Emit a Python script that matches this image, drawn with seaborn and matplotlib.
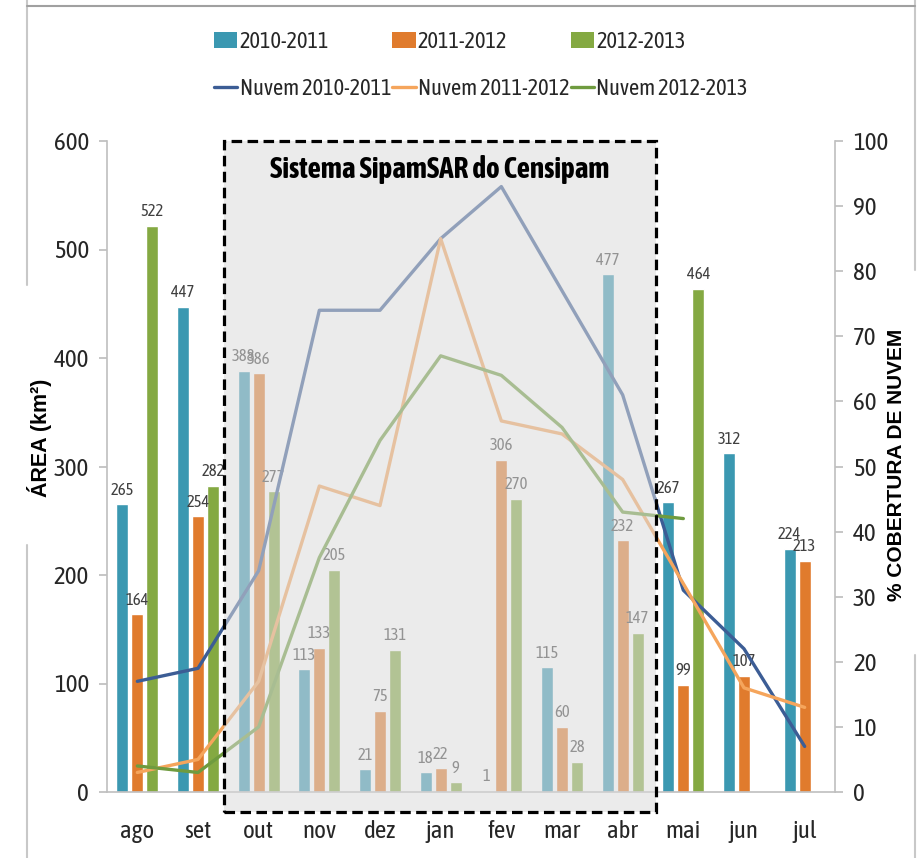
import matplotlib
matplotlib.use('Agg')
import matplotlib.pyplot as plt
import seaborn as sns
import pandas as pd
import numpy as np
from matplotlib.patches import Rectangle, Patch
from matplotlib.lines import Line2D

months = ['ago', 'set', 'out', 'nov', 'dez', 'jan', 'fev', 'mar', 'abr', 'mai', 'jun', 'jul']
seasons = ['2010-2011', '2011-2012', '2012-2013']
area_2010_2011 = [265, 447, 388, 113, 21, 18, 1, 115, 477, 267, 312, 224]
area_2011_2012 = [164, 254, 386, 133, 75, 22, 306, 60, 232, 99, 107, 213]
area_2012_2013 = [522, 282, 277, 205, 131, 9, 270, 28, 147, 464, None, None]
cloud_2010_2011 = [17, 19, 34, 74, 74, 85, 93, 77, 61, 31, 22, 7]
cloud_2011_2012 = [3, 5, 17, 47, 44, 85, 57, 55, 48, 32, 16, 13]
cloud_2012_2013 = [4, 3, 10, 36, 54, 67, 64, 56, 43, 42, None, None]
line_labels = ['Nuvem 2010-2011', 'Nuvem 2011-2012', 'Nuvem 2012-2013']

bar_colors = ['#3b98b1', '#e07b2d', '#84a942']
line_colors = ['#3c5d95', '#f5a55c', '#6f9b3f']

sns.set_theme(style='white')
COND = ['Asap Condensed', 'DejaVu Sans']
plt.rcParams['font.family'] = COND

rows = []
for s, vals in zip(seasons, [area_2010_2011, area_2011_2012, area_2012_2013]):
    for m, v in zip(months, vals):
        if v is not None:
            rows.append({'month': m, 'season': s, 'area': v})
df = pd.DataFrame(rows)

fig = plt.figure(figsize=(9.23, 8.58), dpi=100)
ax = fig.add_axes([107 / 923, 66 / 858, 728 / 923, 651 / 858])

sns.barplot(data=df, x='month', y='area', hue='season', order=months, hue_order=seasons,
            palette=bar_colors, saturation=1, width=0.74, gap=0.19, ax=ax, legend=False)
for cont in ax.containers:
    ax.bar_label(cont, fmt='%d', padding=4, fontsize=12, color='#404040')

ax.set_xlim(-0.5, len(months) - 0.5)
ax.set_ylim(0, 600)
ax.set_yticks(np.arange(0, 601, 100))
ax.set_xlabel('')
ax.set_ylabel('')
for sp in ['top', 'right']:
    ax.spines[sp].set_visible(False)
for sp in ['left', 'bottom']:
    ax.spines[sp].set_color('#bfbfbf')
    ax.spines[sp].set_linewidth(1.2)
ax.tick_params(axis='y', left=True, length=6, color='#bfbfbf', labelsize=18, labelcolor='#262626', pad=7)
ax.tick_params(axis='x', bottom=False, labelsize=18, labelcolor='#262626', pad=14)

ax2 = ax.twinx()
xpos = np.arange(len(months))
for vals, c in zip([cloud_2010_2011, cloud_2011_2012, cloud_2012_2013], line_colors):
    y = np.array([np.nan if v is None else v for v in vals], dtype=float)
    sns.lineplot(x=xpos, y=y, ax=ax2, color=c, linewidth=2.4, legend=False, zorder=3)
ax2.set_ylim(0, 100)
ax2.set_yticks(np.arange(0, 101, 10))
ax2.set_ylabel('')
ax2.set_xlim(-0.5, len(months) - 0.5)
for sp in ['top', 'left', 'bottom']:
    ax2.spines[sp].set_visible(False)
ax2.spines['right'].set_color('#bfbfbf')
ax2.spines['right'].set_linewidth(1.2)
ax2.tick_params(axis='y', right=True, length=6, color='#bfbfbf', labelsize=18, labelcolor='#262626', pad=7)

# shaded box (SipamSAR period)
x0, x1 = 1.43, 8.55
y0, y1 = -18.4, 600
overlay = Rectangle((x0, y0), x1 - x0, y1 - y0, transform=ax.transData, facecolor='#dadada',
                    alpha=0.54, edgecolor='none', zorder=10, clip_on=False)
ax2.add_patch(overlay)
border = Rectangle((x0, y0), x1 - x0, y1 - y0, transform=ax.transData, fill=False,
                   edgecolor='black', linewidth=2.3, linestyle=(0, (3.3, 1.7)), zorder=11, clip_on=False)
ax2.add_patch(border)
ax2.text(4.99, 574, 'Sistema SipamSAR do Censipam', transform=ax.transData, ha='center', va='center',
         fontsize=21, fontweight='bold', color='black', zorder=12)

# axis titles
fig.text(40 / 923, 1 - 438 / 858, 'ÁREA (km²)', rotation=90, ha='center', va='center',
         fontsize=15.5, fontweight='bold', family=['Liberation Sans', 'DejaVu Sans'], color='black')
fig.text(897 / 923, 1 - 465 / 858, '% COBERTURA DE NUVEM', rotation=90, ha='center', va='center',
         fontsize=15, fontweight='bold', family=['Liberation Sans', 'DejaVu Sans'], color='black')

# legend
handles, labels = [], []
for s, bc, ll, lc in zip(seasons, bar_colors, line_labels, line_colors):
    handles.append(Patch(facecolor=bc, edgecolor='none'))
    labels.append(s)
    handles.append(Line2D([0], [0], color=lc, linewidth=2.4))
    labels.append(ll)
fig.legend(handles, labels, ncol=3, loc='upper left', bbox_to_anchor=(214 / 923, 1 - 31 / 858),
           frameon=False, fontsize=16, handlelength=1.05, handletextpad=0.1, columnspacing=0.05,
           labelspacing=1.13, borderaxespad=0, borderpad=0, labelcolor='#262626')

# frame artefacts of the original picture
lc_ = '#c8c8c8'
fig.add_artist(Line2D([27 / 923, 27 / 923], [1, 1 - 285 / 858], color=lc_, lw=1.5))
fig.add_artist(Line2D([27 / 923, 27 / 923], [1 - 545 / 858, 0], color=lc_, lw=1.5))
fig.add_artist(Line2D([915 / 923, 915 / 923], [1, 1 - 270 / 858], color=lc_, lw=1.5))
fig.add_artist(Line2D([915 / 923, 915 / 923], [1 - 655 / 858, 0], color=lc_, lw=1.5))
fig.add_artist(Line2D([27 / 923, 915 / 923], [1 - 6 / 858, 1 - 6 / 858], color='#a0a0a0', lw=1.5))

fig.savefig('out.png', dpi=100)
